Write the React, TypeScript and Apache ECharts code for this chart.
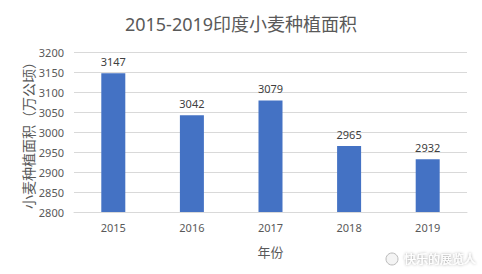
import React, { useEffect, useRef } from "react";
import * as echarts from "echarts";

const categories = ["2015", "2016", "2017", "2018", "2019"];
const values = [3147, 3042, 3079, 2965, 2932];
const titleText = "2015-2019印度小麦种植面积";
const yName = "小麦种植面积（万公顷）";
const xName = "年份";
const watermark = "快乐的展览人";

export default function App() {
  const ref = useRef<HTMLDivElement>(null);
  useEffect(() => {
    if (!ref.current) return;
    const chart = echarts.init(ref.current, undefined, { renderer: "svg" });
    const font = "'Noto Sans', 'Noto Sans CJK SC', sans-serif";
    chart.setOption({
      animation: false,
      backgroundColor: "#ffffff",
      textStyle: { fontFamily: font },
      title: {
        text: titleText,
        left: "center",
        top: 10,
        textStyle: { fontSize: 18, fontWeight: "normal", color: "#595959", fontFamily: font },
      },
      grid: { left: 74, right: 15, top: 52, bottom: 62 },
      xAxis: {
        type: "category",
        data: categories,
        name: xName,
        nameLocation: "middle",
        nameGap: 33,
        nameTextStyle: { fontSize: 13, color: "#595959" },
        axisLine: { lineStyle: { color: "#d9d9d9" } },
        axisTick: { show: false },
        axisLabel: { fontSize: 11, color: "#595959", margin: 10 },
      },
      yAxis: {
        type: "value",
        min: 2800,
        max: 3200,
        interval: 50,
        name: yName,
        nameLocation: "middle",
        nameGap: 39,
        nameMoveOverlap: false,
        nameTextStyle: { fontSize: 14, color: "#595959" },
        axisLine: { show: false },
        axisTick: { show: false },
        axisLabel: { fontSize: 11, color: "#595959", margin: 10, formatter: (v: number) => String(v) },
        splitLine: { lineStyle: { color: "#d9d9d9" } },
      },
      series: [
        {
          type: "bar",
          data: values,
          barWidth: 24,
          itemStyle: { color: "#4472c4" },
          label: { show: true, position: "top", fontSize: 11, color: "#404040", distance: 6 },
        },
      ],
      graphic: [
        {
          type: "circle",
          shape: { cx: 392, cy: 259, r: 6 },
          style: { fill: "#f4f4f4", stroke: "#bbbbbb", lineWidth: 1 },
        },
        {
          type: "text",
          x: 404,
          y: 252,
          style: {
            text: watermark,
            fontSize: 12,
            fill: "#ffffff",
            textShadowColor: "rgba(0,0,0,0.45)",
            textShadowBlur: 3,
            fontFamily: "'Noto Sans CJK SC', sans-serif",
          },
        },
      ],
    });
    return () => chart.dispose();
  }, []);
  return <div ref={ref} style={{ width: 482, height: 274, position: "absolute", left: 0, top: 0 }} />;
}
